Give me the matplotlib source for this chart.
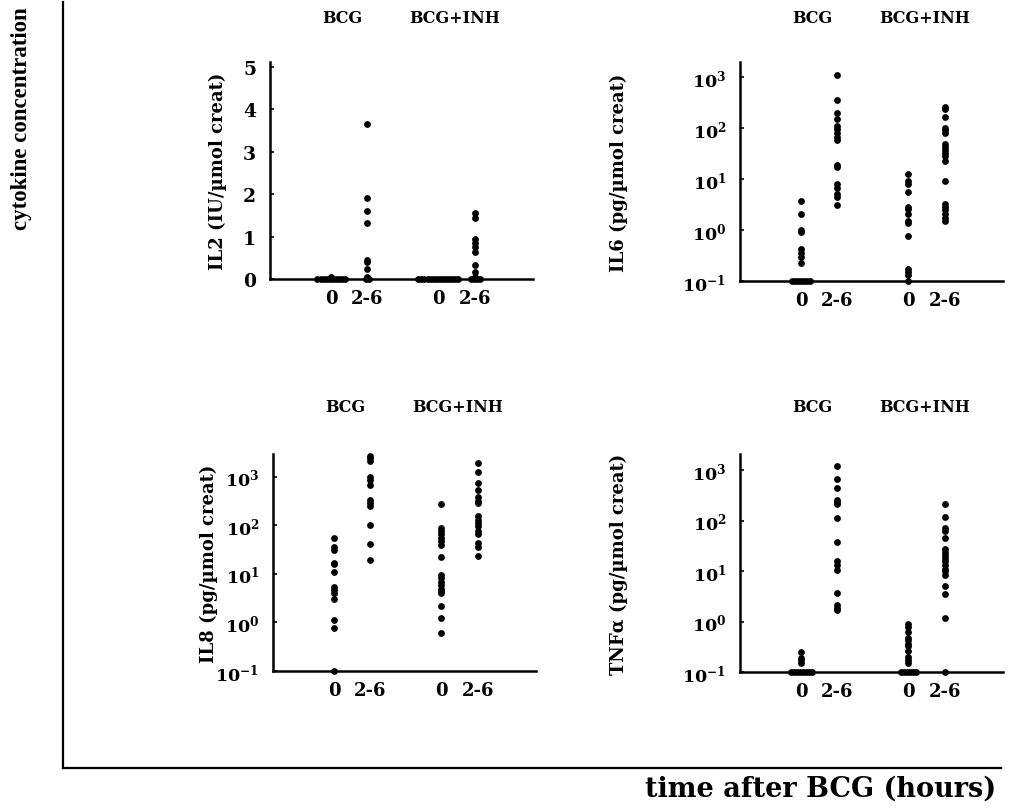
import numpy as np
import matplotlib
matplotlib.use('Agg')
import matplotlib.pyplot as plt
from matplotlib.lines import Line2D

plt.rcParams['font.family'] = 'DejaVu Serif'
plt.rcParams['font.weight'] = 'bold'
plt.rcParams['mathtext.fontset'] = 'custom'
plt.rcParams['mathtext.rm'] = 'DejaVu Serif:bold'
plt.rcParams['mathtext.it'] = 'DejaVu Serif:bold'
plt.rcParams['mathtext.bf'] = 'DejaVu Serif:bold'

# groups: BCG 0, BCG 2-6, BCG+INH 0, BCG+INH 2-6
tick_labels = ['0', '2-6', '0', '2-6']
group_names = ['BCG', 'BCG+INH']

# IL2 (IU/umol creat), linear scale, floor = 0
il2_bcg_0 = [0.05] + [0] * 10
il2_bcg_26 = [3.65, 1.9, 1.6, 1.33, 0.44, 0.40, 0.24, 0.04, 0, 0]
il2_inh_0 = [0] * 14
il2_inh_26 = [1.55, 1.45, 0.95, 0.86, 0.75, 0.63, 0.32, 0.16, 0.04, 0, 0, 0, 0]

# IL6 (pg/umol creat), floor = 0.1
il6_bcg_0 = [3.8, 2.1, 1.0, 0.9, 0.42, 0.36, 0.29, 0.23] + [0.1] * 7
il6_bcg_26 = [1100, 360, 195, 150, 112, 98, 81, 68, 58, 19, 17, 8, 6.7, 5.2, 4.5, 3.1]
il6_inh_0 = [12.6, 9.1, 8.1, 5.6, 2.9, 2.6, 2.1, 1.5, 1.35, 0.76, 0.17, 0.15, 0.13, 0.1]
il6_inh_26 = [260, 235, 165, 100, 91, 81, 48, 43, 38, 33, 28, 23, 9.1, 3.3, 2.9,
              2.5, 2.1, 1.7, 1.5]

# IL8 (pg/umol creat)
il8_bcg_0 = [55, 35, 31, 17, 16, 11, 5.5, 4.7, 4.0, 3.1, 1.15, 0.76, 0.1]
il8_bcg_26 = [2700, 2400, 2100, 1000, 880, 690, 330, 290, 245, 100, 42, 19]
il8_inh_0 = [270, 87, 75, 67, 55, 47, 40, 22, 9.5, 8.1, 6.9, 5.9, 5.0, 4.4, 4.0,
             2.2, 1.25, 0.62]
il8_inh_26 = [1950, 1250, 760, 530, 380, 325, 290, 155, 132, 112, 96, 78, 66,
              43, 35, 23]

# TNFa (pg/umol creat)
tnf_bcg_0 = [0.25, 0.19, 0.17, 0.15] + [0.1] * 8
tnf_bcg_26 = [1230, 670, 440, 257, 230, 210, 112, 38, 15.5, 13.2, 10.5, 3.6,
              2.1, 1.85, 1.7]
tnf_inh_0 = [0.91, 0.78, 0.62, 0.48, 0.43, 0.36, 0.33, 0.26, 0.2, 0.17, 0.15] + [0.1] * 6
tnf_inh_26 = [218, 120, 72, 62, 46, 28, 24, 21, 18, 15.5, 13, 11, 10, 8.3, 5.1,
              3.5, 1.15, 0.1]

panels = [
    ('IL2 (IU/\u00b5mol creat)', [il2_bcg_0, il2_bcg_26, il2_inh_0, il2_inh_26], 0, 'linear'),
    ('IL6 (pg/\u00b5mol creat)', [il6_bcg_0, il6_bcg_26, il6_inh_0, il6_inh_26], 0.1, 'log'),
    ('IL8 (pg/\u00b5mol creat)', [il8_bcg_0, il8_bcg_26, il8_inh_0, il8_inh_26], 0.1, 'log'),
    ('TNF\u03b1 (pg/\u00b5mol creat)', [tnf_bcg_0, tnf_bcg_26, tnf_inh_0, tnf_inh_26], 0.1, 'log'),
]

W, H = 1021, 812
fig = plt.figure(figsize=(W / 100, H / 100), dpi=100)

# axes boxes in pixels: left, right, top, bottom
boxes = [(270, 533, 63, 280), (740, 1003, 63, 282),
         (273, 536, 455, 672), (740, 1003, 455, 673)]
ytops = [5.12, 10 ** 3.3, 10 ** 3.47, 10 ** 3.32]
label_off = [43, 112, 55, 112]
name_off = [45, 45, 47, 47]
xpos = [1.7, 2.7, 4.67, 5.7]
step = 0.085

for (ylab, groups, floor, scale), (l, r, t, b), ytop, loff, noff in zip(
        panels, boxes, ytops, label_off, name_off):
    ax = fig.add_axes([l / W, (H - b) / H, (r - l) / W, (b - t) / H])
    for x, vals in zip(xpos, groups):
        vals = np.array(vals, dtype=float)
        at_floor = vals <= floor
        xs = np.full(len(vals), x)
        n = at_floor.sum()
        xs[at_floor] = x + (np.arange(n) - (n - 1) / 2) * step
        ax.scatter(xs, vals, s=24, color='black', zorder=3, clip_on=False, linewidths=0)
    ax.set_yscale(scale)
    ax.set_xlim(0, 7.3)
    if scale == 'log':
        ax.set_ylim(0.1, ytop)
        ax.set_yticks([0.1, 1, 10, 100, 1000])
        ax.set_yticklabels([r'$10^{-1}$', r'$10^{0}$', r'$10^{1}$', r'$10^{2}$', r'$10^{3}$'])
        ax.minorticks_off()
        ax.tick_params(axis='y', labelsize=12.5)
    else:
        ax.set_ylim(0, ytop)
        ax.set_yticks([0, 1, 2, 3, 4, 5])
        ax.tick_params(axis='y', labelsize=13.5)
    ax.set_xticks(xpos)
    ax.set_xticklabels(tick_labels)
    ax.tick_params(axis='x', length=0, labelsize=13, pad=7)
    ax.tick_params(axis='y', direction='in', length=3, width=1.2, pad=10)
    for s in ['top', 'right']:
        ax.spines[s].set_visible(False)
    for s in ['left', 'bottom']:
        ax.spines[s].set_linewidth(1.8)
    ax.set_ylabel(ylab, fontsize=13, fontweight='bold')
    ax.yaxis.set_label_coords(-loff / (r - l), 0.5)
    # group names above each panel
    ax.text(xpos[0] + 0.32, 1 + noff / (b - t), group_names[0], transform=ax.get_xaxis_transform(),
            ha='center', va='center', fontsize=11.5, fontweight='bold')
    ax.text((xpos[2] + xpos[3]) / 2 - 0.05, 1 + noff / (b - t), group_names[1],
            transform=ax.get_xaxis_transform(), ha='center', va='center',
            fontsize=11.5, fontweight='bold')

# outer frame
fig.add_artist(Line2D([63 / W, 63 / W], [(H - 3) / H, (H - 769) / H], color='black', lw=1.6))
fig.add_artist(Line2D([63 / W, 1001 / W], [(H - 769) / H, (H - 769) / H], color='black', lw=1.6))
fig.text(22 / W, (H - 119) / H, 'cytokine concentration', rotation=90, ha='center', va='center',
         fontsize=16.5, fontweight='bold', family='Liberation Serif')
fig.text(821 / W, (H - 789) / H, 'time after BCG (hours)', ha='center', va='center',
         fontsize=19.5, fontweight='bold')

fig.savefig('out.png', dpi=100)
